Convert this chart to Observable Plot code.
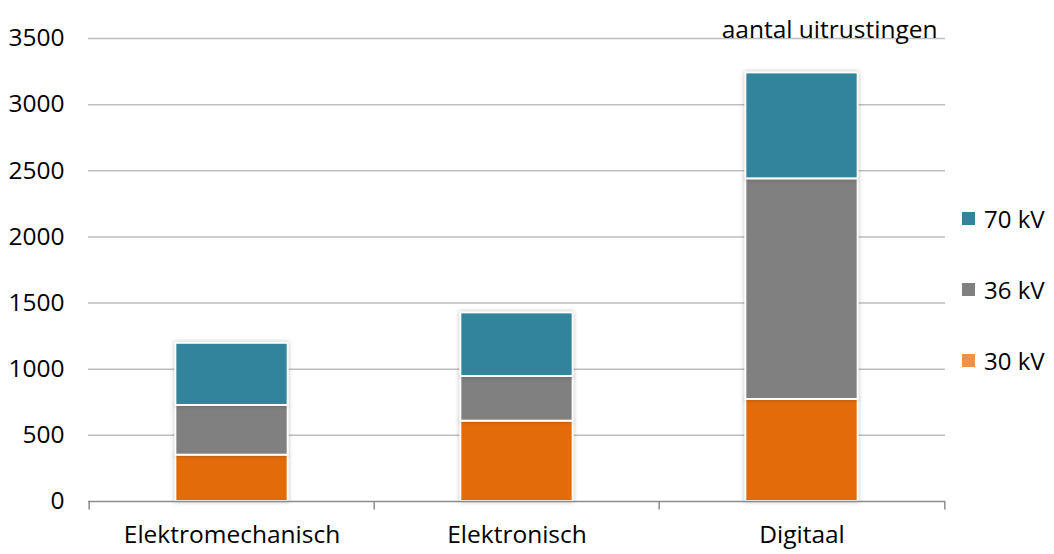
<!DOCTYPE html>
<html>
<head>
<meta charset="utf-8">
<script src="https://cdn.jsdelivr.net/npm/d3@7"></script>
<script src="https://cdn.jsdelivr.net/npm/@observablehq/plot@0.6"></script>
<style>
  html, body { margin: 0; padding: 0; background: #fff; }
  #wrap { position: relative; width: 1054px; height: 554px; font-family: "Open Sans", sans-serif; }
  #legend { position: absolute; left: 962px; top: 0; font-size: 24px; color: #000; }
  .li { position: absolute; left: 0; display: flex; align-items: center; white-space: nowrap; }
  .sw { width: 13px; height: 13px; margin-right: 9px; }
  svg .bars rect { filter: drop-shadow(0 0 2px rgba(0,0,0,0.25)); }
</style>
</head>
<body>
<div id="wrap"><div id="legend"></div></div>
<script>
const categories = ["Elektromechanisch", "Elektronisch", "Digitaal"];
const seriesNames = ["30 kV", "36 kV", "70 kV"];
const values30 = [350, 607, 771];
const values36 = [376, 338, 1668];
const values70 = [470, 481, 801];
const yTicks = [0, 500, 1000, 1500, 2000, 2500, 3000, 3500];
const yTitle = "aantal uitrustingen";

const barColors = ["#E36C0A", "#808080", "#31849B"];
const legendColors = ["#F0914A", "#808080", "#31849B"];

const seriesValues = [values30, values36, values70];
const data = [];
seriesNames.forEach((s, si) => {
  categories.forEach((c, ci) => data.push({category: c, series: s, value: seriesValues[si][ci]}));
});

const W = 1054, H = 554;
const mL = 88, mR = 109, mT = 38, mB = 53;
const step = (W - mL - mR) / categories.length;
const barW = 113;
const inset = (step - barW) / 2;
const FS = 24.5;

const chart = Plot.plot({
  width: W, height: H,
  marginLeft: mL, marginRight: mR, marginTop: mT, marginBottom: mB,
  style: {fontFamily: "'Open Sans', sans-serif", fontSize: FS + "px", color: "#000", background: "transparent"},
  x: {domain: categories, padding: 0, label: null},
  y: {domain: [0, 3500], label: null},
  color: {domain: seriesNames, range: barColors},
  marks: [
    Plot.ruleY(yTicks.filter(d => d > 0), {stroke: "#BFBFBF", strokeWidth: 1.5}),
    Plot.axisY(yTicks, {tickSize: 0, tickPadding: 24, fontSize: FS, label: null, tickFormat: d3.format("d")}),
    Plot.axisX({tickSize: 0, tickPadding: 24, fontSize: FS, label: null}),
    Plot.barY(data, Plot.stackY({x: "category", y: "value", fill: "series", order: seriesNames,
      stroke: "#fff", strokeWidth: 2, insetLeft: inset, insetRight: inset, className: "bars"})),
    Plot.ruleY([0], {stroke: "#8C8C8C", strokeWidth: 1.5}),
    Plot.ruleX(categories, {x: d => d, dx: -step / 2, y1: 0, y2: -65, stroke: "#8C8C8C", strokeWidth: 1.5}),
    Plot.ruleX(categories.slice(-1), {x: d => d, dx: step / 2, y1: 0, y2: -65, stroke: "#8C8C8C", strokeWidth: 1.5}),
    Plot.text([yTitle], {frameAnchor: "top-right", dx: -8, dy: -18, textAnchor: "end", fontSize: FS, fill: "#000"})
  ]
});

document.getElementById("wrap").prepend(chart);

const legend = document.getElementById("legend");
const legendY = [219, 290, 361];
[2, 1, 0].forEach((si, k) => {
  const it = document.createElement("div");
  it.className = "li";
  it.style.top = (legendY[k] - 17) + "px";
  it.innerHTML = `<span class="sw" style="background:${legendColors[si]}"></span><span>${seriesNames[si]}</span>`;
  legend.appendChild(it);
});
</script>
</body>
</html>
